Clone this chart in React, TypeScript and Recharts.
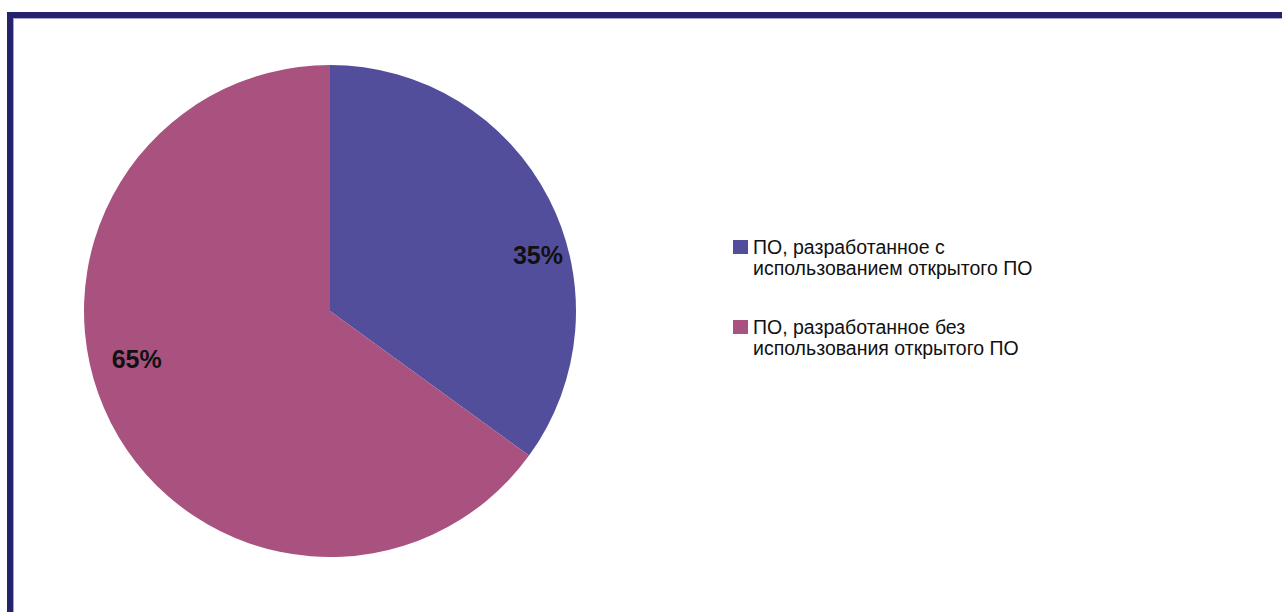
import { PieChart, Pie, Cell } from "recharts";

// Shares of software, percent
const categories = [
  "ПО, разработанное с использованием открытого ПО",
  "ПО, разработанное без использования открытого ПО",
];
const shares = [35, 65];
const legendLines = [
  ["ПО, разработанное с", "использованием открытого ПО"],
  ["ПО, разработанное без", "использования открытого ПО"],
];

const COLORS = ["#534E9B", "#A9527F"];
const FONT = '"Liberation Sans", Arial, sans-serif';

// where Excel dropped the labels (degrees, fraction of radius)
const LABEL_ANGLE = [15, 194];
const LABEL_DIST = [0.875, 0.81];

const data = categories.map((name, i) => ({ name, value: shares[i] }));

const RADIAN = Math.PI / 180;

function renderLabel(props: any) {
  const { cx, cy, outerRadius, index, value } = props;
  const r = outerRadius * LABEL_DIST[index];
  const a = LABEL_ANGLE[index] * RADIAN;
  const x = cx + r * Math.cos(a);
  const y = cy - r * Math.sin(a);
  return (
    <text
      x={x}
      y={y}
      fill="#111"
      textAnchor="middle"
      dominantBaseline="central"
      style={{ fontFamily: FONT, fontSize: 25, fontWeight: 700 }}
    >
      {`${value}%`}
    </text>
  );
}

export default function App() {
  return (
    <div
      style={{
        position: "absolute",
        left: 0,
        top: 0,
        width: 1282,
        height: 612,
        background: "#fff",
        overflow: "hidden",
      }}
    >
      {/* frame: thick navy top/left edge with a faint inner line */}
      <div
        style={{
          position: "absolute",
          left: 7,
          top: 12,
          right: -10,
          bottom: -10,
          borderTop: "6px solid #25236B",
          borderLeft: "6px solid #25236B",
        }}
      >
        <div
          style={{
            position: "absolute",
            left: 0,
            top: 0,
            right: 0,
            bottom: 0,
            borderTop: "1px solid #A3A6D0",
            borderLeft: "1px solid #A3A6D0",
          }}
        />
      </div>

      <div style={{ position: "absolute", left: 0, top: 0 }}>
        <PieChart width={1282} height={612} margin={{ top: 0, right: 0, bottom: 0, left: 0 }}>
          <Pie
            data={data}
            dataKey="value"
            nameKey="name"
            cx={330}
            cy={311}
            outerRadius={246}
            startAngle={90}
            endAngle={-270}
            stroke="none"
            label={renderLabel}
            labelLine={false}
            isAnimationActive={false}
          >
            {data.map((d, i) => (
              <Cell key={d.name} fill={COLORS[i]} />
            ))}
          </Pie>
        </PieChart>
      </div>

      {/* legend */}
      <div
        style={{
          position: "absolute",
          left: 733,
          top: 237,
          fontFamily: FONT,
          fontSize: 19.5,
          lineHeight: "21px",
          color: "#111",
        }}
      >
        {legendLines.map((lines, i) => (
          <div key={i} style={{ position: "relative", paddingLeft: 20, marginBottom: i === 0 ? 38 : 0 }}>
            <span
              style={{
                position: "absolute",
                left: 0,
                top: 3,
                width: 15,
                height: 14,
                background: COLORS[i],
              }}
            />
            {lines.map((t) => (
              <div key={t} style={{ whiteSpace: "nowrap" }}>{t}</div>
            ))}
          </div>
        ))}
      </div>
    </div>
  );
}
